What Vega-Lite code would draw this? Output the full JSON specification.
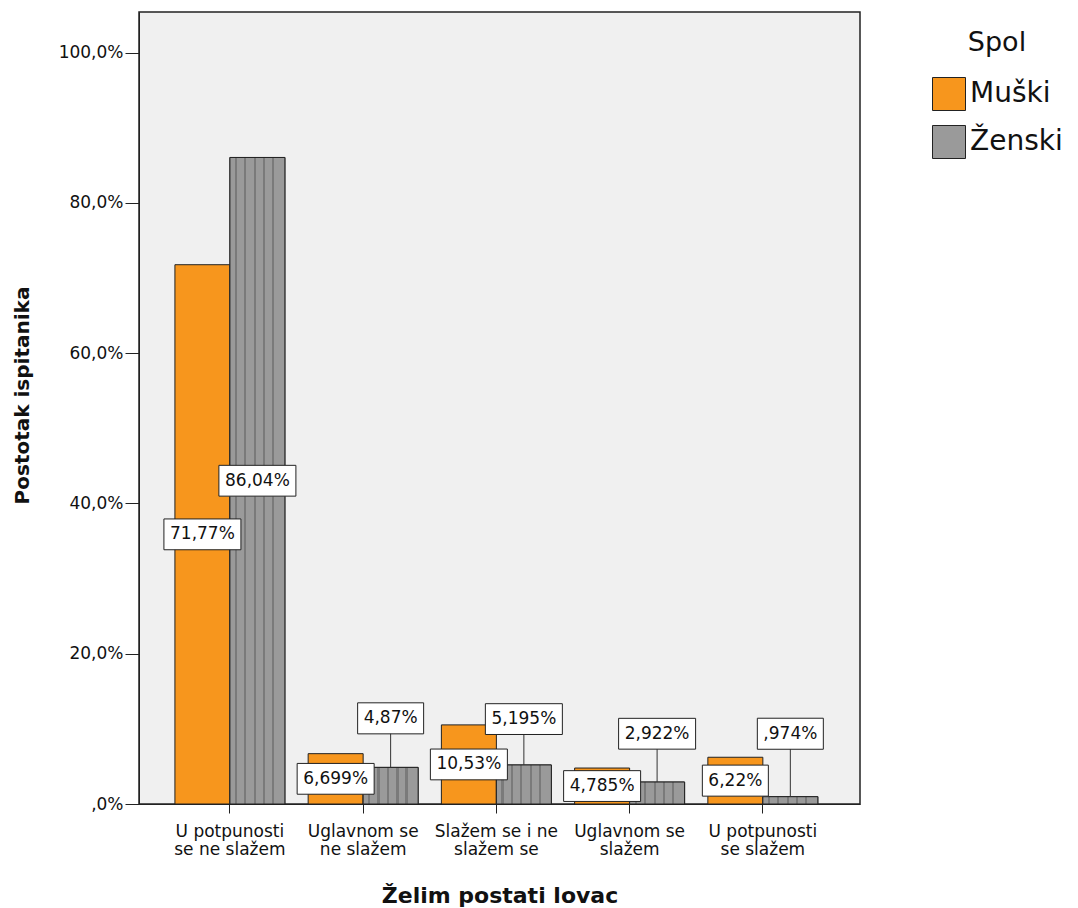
{
  "$schema": "https://vega.github.io/schema/vega-lite/v6.json",
  "width": 721,
  "height": 792,
  "autosize": {"type": "none"},
  "padding": {"left": 139, "top": 12, "right": 218, "bottom": 104},
  "background": "white",
  "config": {
    "font": "DejaVu Sans",
    "view": {"fill": "#f0f0f0", "stroke": "#222222", "strokeWidth": 1.5},
    "axis": {"grid": false, "domainColor": "#222222", "tickColor": "#222222", "labelColor": "#111111", "titleColor": "#111111", "labelFont": "DejaVu Sans", "titleFont": "DejaVu Sans"}
  },
  "data": {
    "values": [
      {"kategorija": "U potpunosti se ne slažem", "spol": "Muški", "postotak": 71.77, "oznaka": "71,77%", "oznakaY": 35.885, "linija": false},
      {"kategorija": "U potpunosti se ne slažem", "spol": "Ženski", "postotak": 86.04, "oznaka": "86,04%", "oznakaY": 43.02, "linija": false},
      {"kategorija": "Uglavnom se ne slažem", "spol": "Muški", "postotak": 6.699, "oznaka": "6,699%", "oznakaY": 3.35, "linija": false},
      {"kategorija": "Uglavnom se ne slažem", "spol": "Ženski", "postotak": 4.87, "oznaka": "4,87%", "oznakaY": 11.4, "linija": true},
      {"kategorija": "Slažem se i ne slažem se", "spol": "Muški", "postotak": 10.53, "oznaka": "10,53%", "oznakaY": 5.265, "linija": false},
      {"kategorija": "Slažem se i ne slažem se", "spol": "Ženski", "postotak": 5.195, "oznaka": "5,195%", "oznakaY": 11.3, "linija": true},
      {"kategorija": "Uglavnom se slažem", "spol": "Muški", "postotak": 4.785, "oznaka": "4,785%", "oznakaY": 2.39, "linija": false},
      {"kategorija": "Uglavnom se slažem", "spol": "Ženski", "postotak": 2.922, "oznaka": "2,922%", "oznakaY": 9.35, "linija": true},
      {"kategorija": "U potpunosti se slažem", "spol": "Muški", "postotak": 6.22, "oznaka": "6,22%", "oznakaY": 3.11, "linija": false},
      {"kategorija": "U potpunosti se slažem", "spol": "Ženski", "postotak": 0.974, "oznaka": ",974%", "oznakaY": 9.35, "linija": true}
    ]
  },
  "encoding": {
    "x": {
      "field": "kategorija",
      "type": "nominal",
      "sort": ["U potpunosti se ne slažem", "Uglavnom se ne slažem", "Slažem se i ne slažem se", "Uglavnom se slažem", "U potpunosti se slažem"],
      "scale": {"paddingInner": 0.1745, "paddingOuter": 0.293, "align": 0.46},
      "axis": {
        "title": "Želim postati lovac",
        "titleFontSize": 22,
        "titleFontWeight": "bold",
        "titleY": 98,
        "titleBaseline": "alphabetic",
        "labelAngle": 0,
        "labelFontSize": 17,
        "labelPadding": 10,
        "labelLineHeight": 18,
        "tickSize": 9,
        "labelExpr": "datum.label == 'U potpunosti se ne slažem' ? ['U potpunosti', 'se ne slažem'] : datum.label == 'Uglavnom se ne slažem' ? ['Uglavnom se', 'ne slažem'] : datum.label == 'Slažem se i ne slažem se' ? ['Slažem se i ne', 'slažem se'] : datum.label == 'Uglavnom se slažem' ? ['Uglavnom se', 'slažem'] : ['U potpunosti', 'se slažem']"
      }
    },
    "xOffset": {"field": "spol", "type": "nominal", "sort": ["Muški", "Ženski"], "scale": {"paddingInner": 0, "paddingOuter": 0}}
  },
  "layer": [
    {
      "mark": {"type": "bar", "stroke": "#222222", "strokeWidth": 1},
      "encoding": {
        "y": {
          "field": "postotak",
          "type": "quantitative",
          "scale": {"domain": [0, 105.4], "nice": false},
          "axis": {
            "title": "Postotak ispitanika",
            "titleFontSize": 20,
            "titleFontWeight": "bold",
            "titleX": -111,
            "titleY": 383,
            "titleBaseline": "alphabetic",
            "values": [0, 20, 40, 60, 80, 100],
            "labelFontSize": 17,
            "tickSize": 14,
            "labelPadding": 2,
            "labelExpr": "datum.value == 0 ? ',0%' : replace(format(datum.value, '.1f'), '.', ',') + '%'"
          }
        },
        "fill": {
          "field": "spol",
          "type": "nominal",
          "sort": ["Muški", "Ženski"],
          "scale": {"domain": ["Muški", "Ženski"], "range": ["#f7961d", "#9a9a9a"]},
          "legend": {
            "title": "Spol",
            "orient": "none",
            "legendX": 793,
            "legendY": 18,
            "titleFontSize": 27,
            "titleFontWeight": "normal",
            "titleColor": "#111111",
            "titleAnchor": "middle",
            "titlePadding": 20,
            "labelFontSize": 28,
            "labelColor": "#111111",
            "labelOffset": 4,
            "symbolType": "square",
            "symbolSize": 1089,
            "symbolStrokeColor": "#222222",
            "symbolStrokeWidth": 1,
            "symbolOpacity": 1,
            "rowPadding": 10
          }
        }
      }
    },
    {
      "transform": [{"filter": "datum.spol == 'Ženski'"}],
      "mark": {
        "type": "bar",
        "stroke": "#222222",
        "strokeWidth": 1,
        "fill": {"gradient": "linear", "x1": 0, "y1": 0, "x2": 1, "y2": 0, "stops": [
          {"offset": 0, "color": "#9a9a9a"},
          {"offset": 0.09, "color": "#9a9a9a"}, {"offset": 0.09, "color": "#7a7a7a"}, {"offset": 0.13, "color": "#7a7a7a"}, {"offset": 0.13, "color": "#9a9a9a"},
          {"offset": 0.26, "color": "#9a9a9a"}, {"offset": 0.26, "color": "#7a7a7a"}, {"offset": 0.30, "color": "#7a7a7a"}, {"offset": 0.30, "color": "#9a9a9a"},
          {"offset": 0.435, "color": "#9a9a9a"}, {"offset": 0.435, "color": "#7a7a7a"}, {"offset": 0.475, "color": "#7a7a7a"}, {"offset": 0.475, "color": "#9a9a9a"},
          {"offset": 0.605, "color": "#9a9a9a"}, {"offset": 0.605, "color": "#7a7a7a"}, {"offset": 0.645, "color": "#7a7a7a"}, {"offset": 0.645, "color": "#9a9a9a"},
          {"offset": 0.77, "color": "#9a9a9a"}, {"offset": 0.77, "color": "#7a7a7a"}, {"offset": 0.81, "color": "#7a7a7a"}, {"offset": 0.81, "color": "#9a9a9a"},
          {"offset": 1, "color": "#9a9a9a"}
        ]}
      },
      "encoding": {
        "y": {"field": "postotak", "type": "quantitative"}
      }
    },
    {
      "transform": [{"filter": "datum.linija"}],
      "mark": {"type": "rule", "color": "#333333", "strokeWidth": 1},
      "encoding": {
        "y": {"field": "oznakaY", "type": "quantitative"},
        "y2": {"field": "postotak"}
      }
    },
    {
      "transform": [{"filter": "length(datum.oznaka) > 5"}],
      "mark": {"type": "point", "shape": "M-1,-0.4H1V0.4H-1Z", "size": 5929, "filled": true, "fill": "white", "stroke": "#222222", "strokeWidth": 1, "opacity": 1},
      "encoding": {
        "y": {"field": "oznakaY", "type": "quantitative"}
      }
    },
    {
      "transform": [{"filter": "length(datum.oznaka) <= 5"}],
      "mark": {"type": "point", "shape": "M-1,-0.47H1V0.47H-1Z", "size": 4356, "filled": true, "fill": "white", "stroke": "#222222", "strokeWidth": 1, "opacity": 1},
      "encoding": {
        "y": {"field": "oznakaY", "type": "quantitative"}
      }
    },
    {
      "mark": {"type": "text", "fontSize": 17, "color": "#111111", "baseline": "middle", "align": "center"},
      "encoding": {
        "y": {"field": "oznakaY", "type": "quantitative"},
        "text": {"field": "oznaka"}
      }
    }
  ]
}
